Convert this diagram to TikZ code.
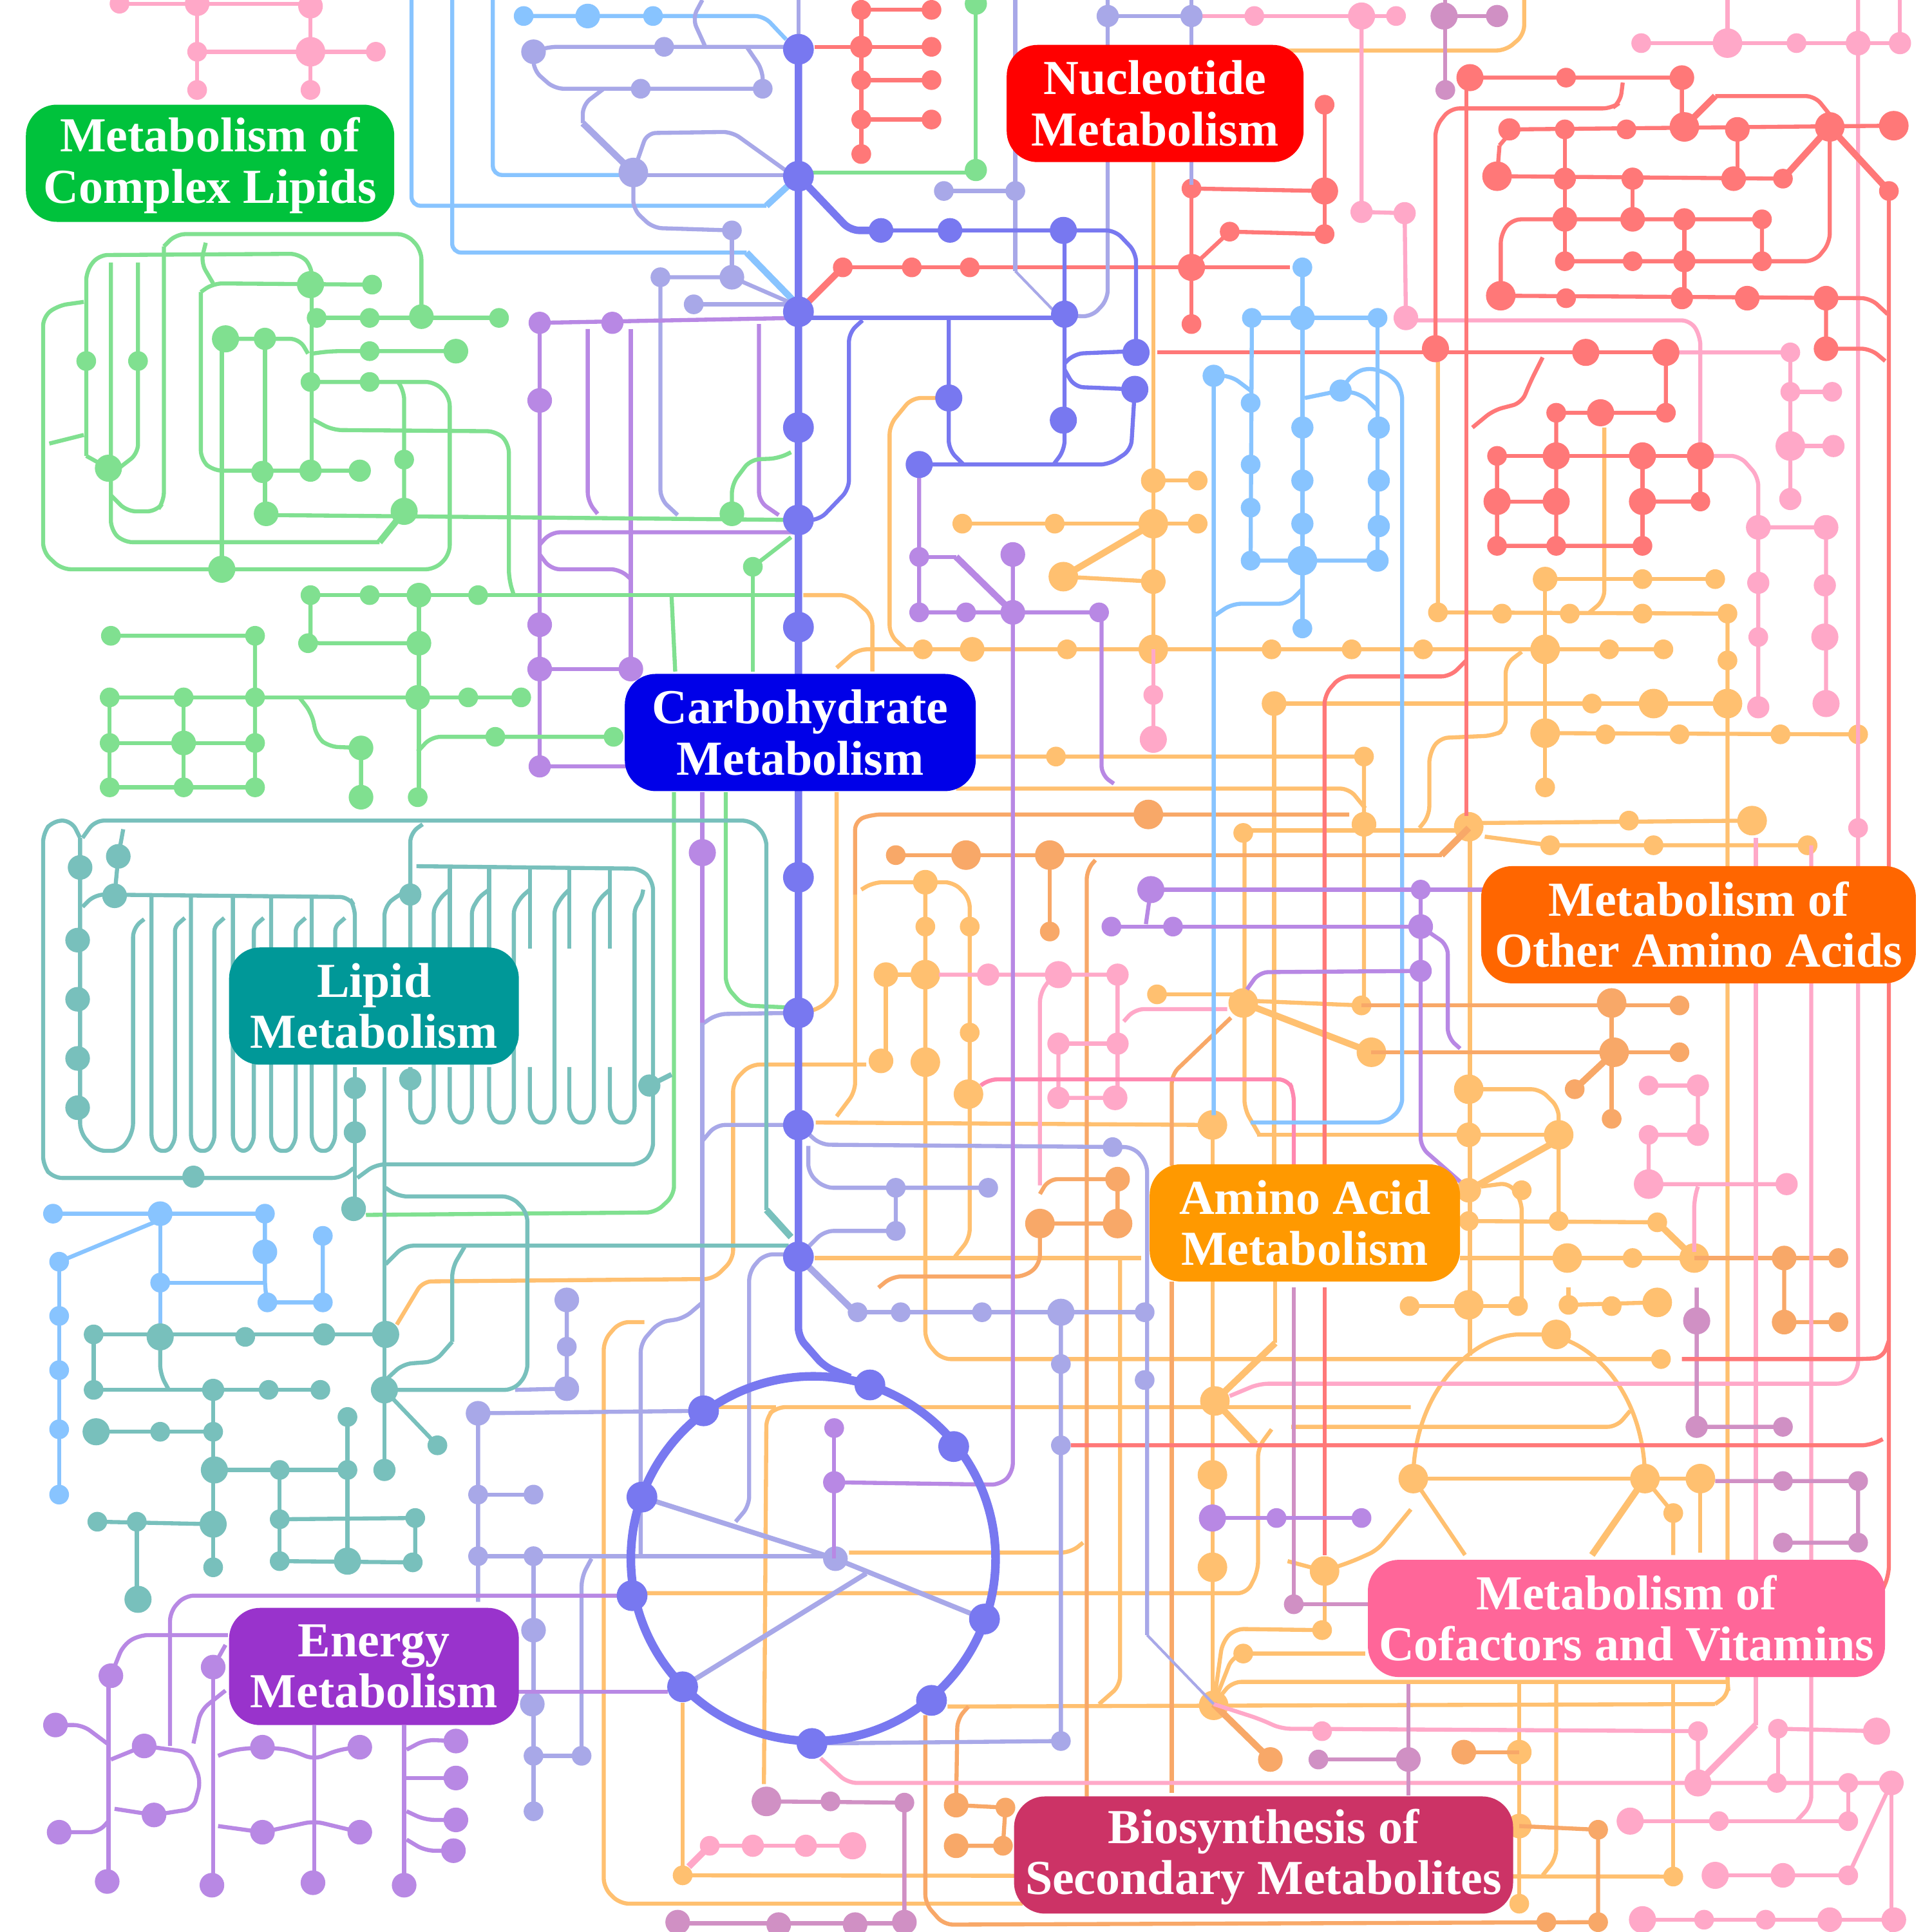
\documentclass[tikz,border=0pt]{standalone}
\usepackage{fontspec}
\setmainfont{Liberation Serif}
\definecolor{cP}{HTML}{FFA8C8}
\definecolor{cPd}{HTML}{FF88B0}
\definecolor{cO}{HTML}{FFC070}
\definecolor{cD}{HTML}{F8A868}
\definecolor{cR}{HTML}{FF7878}
\definecolor{cB}{HTML}{88C4FF}
\definecolor{cL}{HTML}{A8A8E8}
\definecolor{cV}{HTML}{B888E4}
\definecolor{cG}{HTML}{80E090}
\definecolor{cT}{HTML}{78C0BC}
\definecolor{cC}{HTML}{7878F0}
\definecolor{cM}{HTML}{D090C4}
\newcommand\Dt[2]{\foreach \xx/\yy in {#2}{\fill (\xx,\yy) circle[radius=#1];}}
\newcommand\Up{\rule{0pt}{17pt}}
\tikzset{
 lnk/.style={line width=1.8pt,rounded corners=4pt},
 tk/.style={line width=2.9pt},
 lab/.style={text=white,align=center,rounded corners=0.48cm,minimum height=1.82cm,inner sep=0pt,font=\bfseries\fontsize{21.6}{22.6}\selectfont}
}
\begin{document}
\begin{tikzpicture}[x=0.019133cm,y=-0.019133cm]
\useasboundingbox (0,0) rectangle (1568,1568);
\clip (0,0) rectangle (1568,1568);
\fill[white] (0,0) rectangle (1568,1568);
% ---------- orange
\begin{scope}[lnk,color=cO]
\draw (935,41)--(1222,41)--(1237,28)--(1237,0);
\draw (936,131)--(936,527);
\draw (936,390)--(972,390);
\draw (781,425)--(972,425);
\draw[tk] (936,425)--(863,468);
\draw (863,468)--(936,472);
\draw (679,542)--(696,527)--(1350,527);
\draw (1167,293)--(1167,497)--(1402,498);
\draw (1254,470)--(1392,470);
\draw (1254,470)--(1254,639);
\draw (1254,595)--(1508,596);
\draw (1302,347)--(1302,487)--(1290,497);
\draw (1034,571)--(1402,571);
\draw (1034,571)--(1034,945);
\draw (1402,498)--(1402,1365)--(1403,1375)--(1392,1383);
\draw (1235,529)--(1222,539)--(1222,592)--(1212,597)--(1168,599)--(1160,612)--(1160,662)--(1152,672);
\draw (1192,668)--(1422,666);
\draw (1205,679)--(1258,686)--(1467,686);
\draw (792,614)--(1107,614)--(1107,816);
\draw (776,640)--(1095,640)--(1108,656);
\draw (1010,674)--(1182,674);
\draw (1010,676)--(1010,900)--(1022,921);
\draw (1193,672)--(1193,1100);
\draw (699,722)--(709,716)--(774,716)--(787,729)--(787,1005)--(775,1020);
\draw (694,726)--(694,886)--(679,906);
\draw (751,716)--(751,1088)--(764,1103)--(1348,1103);
\draw (719,791)--(751,791);
\draw (719,791)--(719,860);
\draw (322,1075)--(343,1040)--(579,1038)--(595,1022)--(595,878)--(609,864)--(703,864);
\draw (662,911)--(984,913);
\draw (1020,921)--(1265,921);
\draw (648,822)--(665,819)--(679,805)--(679,643);
\draw (652,483)--(689,483)--(708,500)--(708,545);
\draw (770,323)--(740,323)--(722,345)--(722,515)--(735,527);
\draw (661,1021)--(926,1021);
\draw (939,807)--(1009,807);
\draw[tk] (1009,814)--(1113,854);
\draw (1009,812)--(1105,816);
\draw (1192,884)--(1250,884)--(1265,899)--(1265,989);
\draw[tk] (1192,966)--(1258,929);
\draw (1202,963)--(1225,960)--(1235,975)--(1235,1060);
\draw (1192,991)--(1345,992);
\draw[tk] (1345,992)--(1375,1021);
\draw (1185,1021)--(1375,1021);
\draw (1144,1060)--(1232,1060);
\draw (1273,1059)--(1345,1057);
\draw (1273,1045)--(1273,1059);
\draw (1147,1200) .. controls (1147,1130) and (1195,1083) .. (1241,1083) .. controls (1290,1083) and (1335,1130) .. (1335,1200);
\draw (1147,1200)--(1189,1262);
\draw[tk] (1335,1200)--(1292,1262);
\draw (1147,1200)--(1380,1200);
\draw (1335,1200)--(1358,1228)--(1358,1262);
\draw (1380,1200)--(1380,1260);
\draw (1358,1365)--(1358,1522);
\draw (1233,1365)--(1233,1545);
\draw (1263,1365)--(1263,1508)--(1252,1522);
\draw (552,1522)--(1358,1523);
\draw (985,1383)--(1000,1365)--(1403,1365);
\draw (769,1385)--(1392,1383);
\draw (985,1383)--(992,1333)--(1002,1322)--(1073,1323);
\draw (985,1383)--(1000,1345)--(1009,1342)--(1108,1342);
\draw (909,1021)--(909,1368)--(892,1383);
\draw (984,913)--(984,945);
\draw (984,1040)--(984,1383);
\draw[tk] (986,1137)--(1035,1090);
\draw (1035,1040)--(1035,1090);
\draw (620,1448)--(622,1150)--(630,1142)--(1145,1142);
\draw (582,1142)--(630,1142);
\draw (1048,1158)--(1312,1158)--(1323,1145);
\draw[tk] (986,1137)--(1019,1172);
\draw (1032,1160)--(1021,1175)--(1021,1275)--(1012,1293)--(522,1293);
\draw (689,1260)--(869,1260)--(879,1252);
\draw (554,1382)--(554,1522);
\draw (523,1073)--(503,1073)--(490,1088)--(490,1532)--(503,1545)--(830,1545);
\draw (1045,1267)--(1075,1275)--(1098,1267)--(1118,1258)--(1145,1225);
\draw (1075,1275)--(1075,1322);
\Dt{8}{781/425,856/425,972/425,972/390,1107/614,939/807,1105/816,1167/497,1219/498,1333/498,1402/498,1392/470,1333/470,1274/498,1402/536,749/527,866/527,1097/527,1155/527,1306/527,1350/527,1032/527,1292/571,1303/596,1363/596,1445/596,1508/596,1254/639,1322/666,1258/686,1342/686,1467/686,857/614,751/752,787/752,787/838,1009/676,1235/966,1265/991,1192/991,1345/992,1325/1021,1144/1060,1232/1060,1273/1059,1308/1060,1348/1103,1358/1228,1073/1323,1009/1342,554/1522,1233/1545,1358/1523}
\Dt{10}{936/390,936/472,719/791,715/861,751/716,1034/571,789/527,1107/669,1402/571,1192/921,1192/966,1254/470,1233/1482,1233/1422}
\Dt{12}{936/425,863/468,936/527,1254/527,1342/571,1402/571,1254/595,1192/671,1422/666,751/791,751/862,786/888,1009/814,1113/854,984/913,1192/884,1265/921,1272/1021,1375/1021,1192/1059,1345/1057,1263/1083,1147/1200,1335/1200,1380/1200,1075/1275,986/1137,984/1197,984/1272,985/1384}
\end{scope}
% ---------- dark orange
\begin{scope}[lnk,color=cD]
\draw (694,726)--(694,666)--(708,661)--(1095,661);
\draw (727,694)--(1170,694);
\draw[tk] (1170,694)--(1192,672);
\draw (852,694)--(852,756);
\draw (889,698)--(882,706)--(882,1458);
\draw (951,946)--(951,872)--(999,826);
\draw (951,1040)--(951,1455);
\draw (713,1045)--(724,1036)--(832,1036)--(844,1026)--(844,993)--(907,993)--(907,957)--(851,957)--(844,969);
\draw (1113,854)--(1363,854);
\draw (1105,816)--(1363,816);
\draw (1308,814)--(1308,908);
\draw[tk] (1310,854)--(1278,884);
\draw (1375,1021)--(1492,1021);
\draw (1448,1021)--(1448,1073)--(1492,1073);
\draw (751,1392)--(751,1545)--(766,1562)--(1297,1560);
\draw (786,1385)--(777,1395)--(776,1465)--(816,1467)--(814,1498)--(776,1498);
\draw (1233,1482)--(1297,1485)--(1297,1560);
\draw (1188,1422)--(1233,1422);
\draw[tk] (985,1383)--(1031,1428);
\Dt{8}{727/694,852/756,1363/816,1363/854,1492/1021,1492/1073,1278/884,1308/908,1297/1485,1255/1560,1297/1560,816/1467,814/1498}
\Dt{10}{776/1465,776/1498,1031/1428,1188/1422,1448/1073,907/957,1448/1021}
\Dt{12}{784/694,852/694,932/661,844/993,907/993,1308/814,1310/854}
\end{scope}
% ---------- pink
\begin{scope}[lnk,color=cP]
\draw (97,3)--(252,3);\draw (160,3)--(160,73);\draw (252,3)--(252,73);\draw (160,42)--(305,42);
\Dt{8}{97/3,160/42,160/73,252/73,305/42}\Dt{10}{160/3,252/5}\Dt{12}{252/42}
\draw (967,13)--(1133,13);
\draw (1105,13)--(1105,172)--(1140,173)--(1141,258);
\draw (1142,260)--(1372,260)--(1380,273)--(1380,370)--(1412,370)--(1427,387)--(1427,574);
\draw (1427,428)--(1482,428)--(1482,571);
\Dt{8}{1018/13,1133/13,1427/517}\Dt{9}{1105/172,1140/173,1427/473,1427/574,1481/475}\Dt{10}{1141/258,1427/428,1482/428}\Dt{11}{1105/13,1481/517,1482/571}
\draw (1352,286)--(1453,286)--(1453,405);\draw (1453,318)--(1487,318);\draw (1453,362)--(1488,362);
\Dt{8}{1453/286,1487/318,1453/318}\Dt{9}{1488/362,1453/405}\Dt{12}{1453/362}
\draw (1332,35)--(1542,35);\draw (1402,0)--(1402,35);\draw (1542,0)--(1542,35);
\draw (1508,0)--(1508,1112)--(1498,1123)--(1022,1123)--(998,1133);
\Dt{8}{1332/35,1458/35,1508/672}\Dt{9}{1542/35}\Dt{10}{1508/35}\Dt{12}{1402/35}
\draw (1470,686)--(1470,1465)--(1458,1478);
\draw (1425,680)--(1425,1400);
\draw[tk] (1425,1400)--(1378,1447);
\draw (985,1383)--(1022,1395)--(1040,1403)--(1378,1405)--(1378,1447);
\draw (666,1427)--(688,1447)--(1535,1447);
\draw (1443,1403)--(1443,1447);\draw (1443,1403)--(1523,1405);
\draw (1500,1447)--(1500,1478);\draw (1323,1478)--(1500,1478);
\draw (1392,1522)--(1500,1522);
\draw (1500,1522)--(1535,1447);\draw (1535,1447)--(1535,1568);
\draw (1333,1558)--(1537,1558);
\Dt{8}{1073/1405,1378/1405,1442/1447,1500/1447,1443/1403,1395/1478,1500/1478,1500/1522,1383/1558,1433/1558}
\Dt{10}{1535/1447,1447/1522,1485/1558,1537/1558}\Dt{11}{1378/1447,1523/1405,1323/1478,1392/1522,1333/1558}
\draw (1338,881)--(1378,881)--(1378,921)--(1338,921)--(1338,961)--(1450,961);
\draw (1378,963)--(1375,973)--(1375,1016);
\Dt{8}{1338/881,1338/921}\Dt{9}{1378/881,1378/921,1450/961}\Dt{12}{1338/961}
\draw (762,791)--(907,791)--(907,889);
\draw (859,847)--(907,847);\draw (859,847)--(859,891)--(905,891);
\draw (852,795)--(844,806)--(844,962);
\draw (912,829)--(921,819)--(996,819);
\Dt{9}{802/791,907/791,907/847,859/847,859/891}\Dt{10}{905/891}\Dt{11}{859/791}
\draw[cPd] (796,881)--(802,876)--(1045,876)--(1050,886)--(1050,949);
\draw (936,527)--(936,600);\Dt{8}{936/564}\Dt{11}{936/600}
\draw[tk] (559,1515)--(576,1498);
\draw (576,1498)--(692,1498);
\Dt{8}{576/1498}\Dt{9}{611/1498,654/1498}\Dt{11}{692/1498}
\end{scope}
% ---------- mauve
\begin{scope}[lnk,color=cM]
\draw (1172,13)--(1215,13);\draw (1173,0)--(1173,73);
\Dt{8}{1173/73}\Dt{9}{1215/13}\Dt{11}{1172/13}
\draw (1377,1045)--(1377,1158)--(1447,1158);
\Dt{8}{1447/1158}\Dt{9}{1377/1158}\Dt{11}{1377/1072}
\draw (1392,1202)--(1508,1202)--(1508,1252)--(1447,1252);
\Dt{8}{1447/1202,1508/1202,1447/1252,1508/1252}
\draw (1050,1302)--(1110,1302);\draw (1050,1045)--(1050,1302);\Dt{8}{1050/1302}
\draw (1070,1428)--(1143,1428);\draw (1143,1367)--(1143,1457);
\Dt{8}{1070/1428}\Dt{10}{1143/1428}
\draw (622,1462)--(734,1463)--(734,1552);
\Dt{8}{674/1462,734/1463}\Dt{12}{622/1462}
\draw (550,1561)--(734,1561);
\Dt{10}{550/1560,632/1562,694/1562,734/1560}
\end{scope}
% ---------- red
\begin{scope}[lnk,color=cR]
\draw (699,0)--(699,125);
\draw (661,38)--(757,38);\draw (699,8)--(756,8);\draw (699,65)--(756,65);\draw (699,97)--(756,97);
\Dt{8}{699/8,756/8,699/65,756/65,699/97,756/97,699/125,756/38}\Dt{9}{699/38}
\draw[tk] (648,253)--(684,217);
\draw (684,217)--(1047,217);
\draw (967,217)--(967,263);\draw (967,153)--(967,217);
\draw (967,153)--(1075,155);\draw (1075,85)--(1075,190);
\draw (998,188)--(1075,190);\draw (967,217)--(998,188);
\Dt{8}{684/217,740/217,787/217,1075/85,998/188,1075/190,967/263,967/153}\Dt{11}{1075/155,967/217}
\draw (1193,63)--(1365,63)--(1365,103);
\draw (1190,63)--(1190,662);
\draw (1317,67)--(1315,83)--(1308,88)--(1177,88)--(1165,103)--(1165,283);
\draw (939,286)--(1352,286);
\Dt{8}{1271/63}\Dt{10}{1365/63}\Dt{11}{1193/63,1165/283,1287/286,1352/286}
\draw (1252,290)--(1242,310)--(1235,327)--(1212,333)--(1195,347);
\draw (1352,286)--(1352,335)--(1263,335)--(1263,443);
\draw (1215,370)--(1380,370);\draw (1215,370)--(1215,443)--(1333,443);
\draw (1333,370)--(1333,443);\draw (1380,370)--(1380,407)--(1333,407);
\draw (1215,407)--(1263,407);
\Dt{8}{1352/335,1263/335,1215/370,1215/443,1263/443,1333/443,1380/407}\Dt{11}{1299/335,1263/370,1333/370,1380/370,1215/407,1263/407,1333/407}
\draw (1217,118)--(1228,105)--(1537,102);
\draw (1215,143)--(1217,118);
\draw (1213,143)--(1447,145);
\draw[tk] (1447,145)--(1485,103);
\draw (1270,105)--(1270,212);\draw (1410,105)--(1410,145);\draw (1325,145)--(1325,178);
\draw[tk] (1367,103)--(1392,78);
\draw (1392,78)--(1473,78)--(1485,93);
\draw (1485,103)--(1485,197)--(1473,212)--(1270,212);
\draw (1218,240)--(1218,190)--(1227,178)--(1430,178)--(1430,212);
\draw (1367,178)--(1367,240);
\draw (1218,240)--(1518,242)--(1532,255);
\draw (1482,242)--(1482,283)--(1518,283)--(1530,293);
\draw[tk] (1485,103)--(1533,155);
\draw (1533,157)--(1533,1278)--(1528,1290);
\Dt{8}{1270/105,1320/105,1447/145,1325/212,1430/178,1533/155,1270/212,1271/242,1430/212}\Dt{9}{1270/145,1325/145,1367/178,1367/212,1365/242,1225/105}\Dt{10}{1270/178,1325/178,1410/105,1407/145,1418/242,1482/242,1482/283}\Dt{12}{1215/143,1367/103,1485/103,1537/102,1218/240}
\draw (1075,949)--(1075,564)--(1088,549)--(1177,549)--(1190,536);
\draw (1075,1045)--(1075,1262);
\draw (1365,1103)--(1512,1103)--(1528,1102)--(1533,1088);
\draw (869,1173)--(1518,1173)--(1528,1168);
\end{scope}
% ---------- light blue
\begin{scope}[lnk,color=cB]
\draw (334,0)--(334,167)--(622,167);
\draw[tk] (622,167)--(648,143);
\draw (367,0)--(367,205)--(606,205);
\draw[tk] (606,205)--(645,245);
\draw (400,0)--(400,142)--(515,142);
\draw (425,13)--(620,13)--(638,32);
\Dt{8}{425/13,530/13}\Dt{10}{477/13}
\draw (1016,258)--(1118,258);
\draw (1057,217)--(1057,510);
\draw (1118,258)--(1118,455)--(1015,455)--(1016,258);
\Dt{8}{1057/217,1016/258,1118/258,1057/510,1015/327,1015/377,1015/412,1015/455}\Dt{9}{1057/347,1057/390,1057/425,1119/347,1119/390,1119/427,1118/455}\Dt{12}{1057/455}\Dt{10}{1057/258}
\draw (1015,317)--(999,305)--(985,305)--(985,905);
\draw (985,500)--(1000,490)--(1045,490)--(1057,478);
\draw (1059,323)--(1088,317)--(1105,320)--(1118,333);
\draw (1088,317)--(1098,303)--(1112,298)--(1130,305)--(1138,317)--(1138,899)--(1125,911)--(1015,911);
\Dt{9}{985/305,1088/317}
\draw (43,985)--(215,985)--(215,1045)--(217,1057)--(262,1057)--(262,1003);
\draw (130,985)--(130,1085);
\draw (130,1041)--(215,1041);
\draw (48,1024)--(130,990);
\draw (48,1024)--(48,1213);
\Dt{8}{43/985,215/985,262/1003,48/1024,48/1068,48/1112,48/1160,48/1213,130/1041,262/1057,217/1057}\Dt{10}{130/985,215/1016}
\end{scope}
% ---------- lilac
\begin{scope}[lnk,color=cL]
\draw (648,0)--(648,38);
\draw (433,42)--(445,38)--(648,38);
\draw (433,42)--(433,57)--(450,72)--(619,72)--(619,57)--(606,38);
\draw (490,72)--(473,85)--(473,100);
\draw[tk] (473,100)--(514,140);
\draw (514,140)--(514,170)--(530,185)--(594,187);
\draw (514,140)--(525,108)--(594,107)--(640,140);
\draw (515,142)--(648,142);
\draw (570,0)--(562,15)--(572,37);
\draw (594,187)--(594,225);
\draw (536,225)--(594,225)--(640,245);
\draw (536,225)--(536,405)--(550,418);
\draw (563,247)--(640,247);
\Dt{8}{539/38,619/72,520/72,594/187,536/225,563/247}\Dt{10}{433/42,594/225}\Dt{12}{514/140}
\draw (824,0)--(824,220);
\draw[line width=1.2pt] (824,220)--(856,253);
\draw (766,155)--(824,155);
\Dt{8}{766/155,824/155}
\draw (899,13)--(967,13);
\draw (899,0)--(899,243)--(886,257)--(864,256);
\draw (967,0)--(967,150);
\Dt{9}{899/13,967/13}
\draw (460,1055)--(460,1127)--(418,1128);
\Dt{8}{460/1093}\Dt{10}{460/1055,460/1127}
\draw (571,1145)--(388,1147)--(388,1300);
\draw (388,1213)--(433,1213);
\draw (678,1263)--(388,1263);
\draw (433,1263)--(433,1470);
\draw (472,1425)--(433,1425);
\draw (472,1425)--(472,1280)--(480,1265);
\Dt{8}{388/1213,433/1213,388/1263,433/1263,433/1425,472/1425,433/1470}\Dt{10}{388/1147,433/1323,432/1383}
\draw (570,830)--(570,1145);
\draw (570,831)--(582,823)--(648,822);
\draw (570,926)--(581,913)--(648,913);
\draw (640,1018)--(620,1018)--(608,1032)--(608,1222)--(597,1235);
\draw (520,1262)--(520,1090)--(535,1073)--(555,1070)--(569,1058);
\draw (648,913)--(666,929)--(920,931)--(931,944)--(931,1327);
\draw[line width=1.2pt] (931,1327)--(985,1383);
\Dt{8}{903/931}
\draw (656,930)--(656,952)--(669,964)--(802,964);
\draw (727,964)--(727,999)--(669,999)--(656,1012);
\Dt{8}{727/964,802/964,727/999}
\draw[tk] (648,1020)--(695,1066);
\draw (696,1065)--(929,1065);
\draw (861,1065)--(861,1413)--(659,1415);
\Dt{8}{696/1065,731/1065,797/1065,929/1065,929/1120,861/1107,861/1173,861/1413}\Dt{11}{861/1065}
\draw[line width=2.2pt] (521,1215)--(678,1265)--(799,1314);
\draw[line width=2.2pt] (554,1369)--(703,1277);
\Dt{10}{678/1265}
\end{scope}
% ---------- violet
\begin{scope}[lnk,color=cV]
\draw (438,262)--(648,258);
\draw (438,262)--(438,622)--(510,622);
\draw (477,267)--(477,407)--(485,417);
\draw (512,267)--(512,545);
\draw (616,263)--(616,407)--(632,418);
\draw (438,442)--(447,432)--(648,432);
\draw (438,450)--(447,462)--(503,462)--(512,470);
\draw (438,543)--(512,543);
\Dt{9}{438/262,497/262,438/622}\Dt{10}{438/325,438/507,438/543,512/543}
\draw (570,643)--(570,830);\Dt{11}{570/692}
\draw (746,377)--(746,497)--(892,497);
\draw (746,452)--(776,452);
\draw[tk] (776,452)--(822,497);
\draw (822,450)--(822,1195)--(812,1205)--(677,1203);
\draw (677,1159)--(677,1265);
\draw (894,497)--(894,629)--(904,636);
\Dt{8}{746/452,746/497,784/497,892/497,677/1159}\Dt{9}{677/1203}\Dt{10}{822/450,822/497}
\draw (934,722)--(1205,722);
\draw (934,722)--(930,750);
\draw (902,752)--(1153,752);
\draw (1153,752)--(1175,767)--(1175,842)--(1185,851);
\draw (1153,722)--(1153,931)--(1185,959);
\draw (1012,803)--(1022,789)--(1153,788);
\Dt{8}{902/752,952/752,1153/722}\Dt{9}{1153/788}\Dt{10}{1153/752}\Dt{11}{934/722}
\draw (984,1232)--(1105,1232);\Dt{8}{1036/1232,1105/1232}\Dt{11}{984/1232}
\draw (138,1417)--(138,1308)--(150,1295)--(513,1295);
\draw (90,1360)--(100,1335)--(113,1327)--(185,1327);
\draw (173,1353)--(183,1335);
\draw (173,1353)--(173,1530);
\draw (88,1360)--(88,1527);
\draw (45,1400)--(67,1400)--(87,1415);
\draw (48,1487)--(80,1487)--(88,1478);
\draw (90,1428)--(117,1417)--(153,1422)--(163,1445)--(157,1468)--(125,1473)--(93,1468);
\draw (157,1415)--(163,1388)--(183,1372);
\draw (255,1400)--(255,1528);
\draw (177,1425)--(190,1420)--(213,1418)--(235,1420)--(255,1428)--(275,1420)--(292,1418);
\draw (177,1482)--(213,1487)--(255,1478)--(292,1487);
\draw (328,1400)--(328,1530);
\draw (330,1420)--(345,1412)--(370,1413);
\draw (330,1443)--(370,1443);
\draw (330,1470)--(345,1477)--(370,1477);
\draw (330,1493)--(345,1502)--(368,1502);
\draw (420,1373)--(542,1373);
\Dt{10}{368/1502,370/1413,370/1443,370/1477,90/1360,173/1353,45/1400,117/1417,125/1473,48/1487,87/1527,172/1530,254/1528,328/1530,213/1418,292/1418,213/1487,292/1487}
\end{scope}
% ---------- green
\begin{scope}[lnk,color=cG]
\draw (133,200)--(143,190)--(330,190)--(342,203)--(342,257);
\draw (257,258)--(405,258);
\draw (70,370)--(70,220)--(80,207)--(243,206)--(253,216)--(253,382);
\draw (70,370)--(88,380);
\draw (90,213)--(90,430)--(100,440)--(308,440);
\draw[tk] (308,440)--(328,415);
\draw (112,213)--(112,368)--(90,385);
\draw (133,200)--(133,407)--(127,415)--(103,415)--(90,402);
\draw (328,415)--(328,317)--(323,310);
\draw (252,310)--(353,310)--(365,322)--(365,450)--(353,462)--(50,462)--(35,448)--(35,257)--(47,248)--(68,245);
\draw (40,360)--(68,353);
\draw (180,277)--(180,462);
\draw (183,275)--(243,275)--(250,287);
\draw (215,275)--(215,417);
\draw (163,237)--(163,373)--(173,382)--(292,382);
\draw (163,237)--(173,230)--(302,231);
\draw (167,197)--(163,213)--(173,230);
\draw (216,418)--(648,422);
\draw (253,340)--(270,349)--(403,350)--(413,360)--(413,470)--(417,483);
\draw (253,287)--(268,285)--(370,285);
\Dt{8}{405/258,252/310,300/310,257/258,300/258,300/285,328/373,70/293,112/293,302/231}\Dt{9}{215/275,292/382,213/383,252/382}\Dt{10}{342/257,370/285,216/417}\Dt{11}{183/275,252/231,88/380,328/415,180/462}
\draw (594,418)--(594,393)--(609,373)--(632,372)--(642,367);\Dt{10}{594/417}
\draw (611,460)--(642,436);\draw (611,460)--(611,545);\Dt{8}{611/460}
\draw (252,483)--(648,483);
\draw (252,483)--(252,522)--(340,522);
\draw (340,483)--(340,647);
\Dt{8}{252/483,300/483,388/483,250/522}\Dt{10}{340/483,340/522}
\draw (90,516)--(207,516)--(207,639);
\draw (89,566)--(423,566);\draw (89,603)--(207,603);\draw (89,639)--(207,639);
\draw (89,566)--(89,639);\draw (149,566)--(149,639);
\Dt{8}{90/516,207/516,89/566,149/566,207/566,380/566,423/566,89/603,207/603,89/639,149/639,207/639}\Dt{10}{339/566,149/603}
\draw (243,566)--(253,579)--(257,598)--(267,606)--(293,607)--(293,647);
\Dt{10}{293/607,293/647}
\draw (339,610)--(350,598)--(497,598);
\Dt{8}{339/647,402/598,498/598}
\draw (545,483)--(548,545);\draw (547,643)--(547,970)--(532,984)--(297,986);
\draw (589,643)--(589,800)--(603,816)--(648,818);
\draw (792,3)--(792,138);\draw (648,140)--(792,140);\Dt{9}{792/3,792/138}
\end{scope}
% ---------- teal
\begin{scope}[lnk,color=cT]
\draw (65,680)--(58,666)--(43,666)--(35,676)--(35,946)--(43,956)--(277,956)--(287,948);
\draw (65,680)--(65,919)--(78,934)--(98,934)--(108,919)--(108,753)--(117,746);
\draw (67,680)--(77,666)--(610,666)--(622,679)--(622,982);
\draw[tk] (622,982)--(642,1004);
\draw (67,736)--(77,726)--(283,728)--(288,736)--(288,770);
\draw (100,673)--(96,695)--(93,727);
\foreach \aa/\bb in {123/142,155/174,189/206,220/240,253/272}{
 \draw[rounded corners=2pt] (\aa,727)--(\aa,925)--(\aa+5,934)--(\bb-5,934)--(\bb,925)--(\bb,752)--(\bb+8,745);
}
\Dt{10}{65/704,63/763,63/811,63/859,63/899,96/695,93/727}
\draw (333,770)--(333,676)--(343,669);
\draw (338,703)--(520,705)--(530,715)--(530,935)--(520,945)--(305,945)--(290,956);
\foreach \aa/\bb/\cc in {333/352/365,365/383/397,397/417/430,430/450/462,462/482/495,495/515/522}{
 \draw[rounded corners=2pt] (\aa,866)--(\aa,902)--(\aa+5,911)--(\bb-5,911)--(\bb,902)--(\bb,738)--(\bb+6,728)--(\cc,722);
 \draw (\aa,705)--(\aa,770);
}
\draw (312,770)--(312,736)--(322,727)--(333,722);
\draw (312,866)--(312,1193);
\Dt{9}{333/726,288/883,288/919,333/876,157/955,527/881}\Dt{10}{287/981}
\draw (288,866)--(288,981);
\draw[line width=2.2pt] (527,881)--(545,872);
\draw (313,964)--(323,971)--(415,971)--(428,984)--(428,1115)--(417,1128)--(312,1128);
\draw (313,1026)--(328,1011)--(640,1011);
\draw (367,1089)--(367,1029)--(377,1012);
\draw (367,1089)--(353,1105)--(327,1107)--(313,1120);
\draw (76,1083)--(313,1083);\draw (76,1128)--(260,1128);\draw (76,1083)--(76,1128);
\draw (130,1085)--(130,1115)--(137,1128);
\draw (78,1162)--(173,1162);\draw (173,1128)--(173,1272);
\draw (174,1193)--(282,1193);\draw (282,1150)--(282,1268);\draw (227,1193)--(227,1267);
\draw (227,1233)--(337,1232)--(337,1268);\draw (227,1267)--(335,1268);
\draw (79,1235)--(173,1237);\draw (111,1235)--(111,1298);
\draw (312,1128)--(355,1173);
\Dt{8}{76/1083,76/1128,218/1128,260/1128,199/1085,130/1162,173/1162,282/1150,282/1193,227/1193,227/1233,79/1235,111/1235,173/1272,355/1173,337/1232,335/1268,227/1267}
\Dt{9}{173/1128,263/1083,312/1193}\Dt{11}{130/1085,313/1083,312/1128,78/1162,174/1193,173/1237,282/1267,112/1298}
\end{scope}
% ---------- blue core
\begin{scope}[lnk,color=cC]
\draw[line width=3.3pt] (648,30)--(648,1085)--(669,1109)--(690,1118);
\draw[line width=3.8pt] (660,1265) circle[radius=148];
\draw[line width=3.3pt] (648,143)--(690,187)--(715,187);
\draw (690,187)--(905,187)--(922,205)--(922,286);
\draw (864,187)--(864,365)--(855,377);
\draw (864,295)--(872,287)--(921,285);
\draw (864,300)--(872,314)--(921,316)--(918,365)--(900,377)--(745,377);
\draw (648,258)--(864,258);
\draw (770,258)--(770,365)--(782,377);
\draw (700,260)--(689,270)--(689,397)--(665,422)--(648,422);
\Dt{10}{715/187,771/187}\Dt{11}{863/187,864/255,922/286,921/316,770/323,863/341,746/377}
\Dt{12.5}{648/40,648/143,648/253,648/347,648/422,648/509,648/712,648/822,648/913,648/1020,706/1124,571/1145,774/1174,521/1215,513/1295,799/1314,554/1369,756/1380,659/1415}
\end{scope}
% ---------- labels
\node (lcl) [lab,fill={rgb,255:red,0;green,194;blue,60},minimum width=5.72cm] at (170.5,132.5) {\Up Metabolism of\\Complex Lipids};
\node (lnu) [lab,fill=red,minimum width=4.61cm] at (937.5,84) {Nucleotide\\Metabolism};
\node (lca) [lab,fill={rgb,255:red,0;green,0;blue,232},minimum width=5.45cm] at (649.5,594.5) {Carbohydrate\\Metabolism};
\node (lli) [lab,fill={rgb,255:red,0;green,152;blue,152},minimum width=4.50cm] at (303.5,816.5) {Lipid\\Metabolism};
\node (loa) [lab,fill={rgb,255:red,255;green,102;blue,0},minimum width=6.75cm] at (1378.5,750.5) {Metabolism of\\Other Amino Acids};
\node (lam) [lab,fill={rgb,255:red,255;green,153;blue,0},minimum width=4.82cm] at (1059,992.5) {Amino Acid\\Metabolism};
\node (lco) [lab,fill={rgb,255:red,255;green,102;blue,153},minimum width=8.03cm] at (1320,1313.5) {Metabolism of\\Cofactors and Vitamins};
\node (len) [lab,fill={rgb,255:red,153;green,51;blue,204},minimum width=4.50cm] at (303.5,1352.5) {Energy\\Metabolism};
\node (lbi) [lab,fill={rgb,255:red,204;green,51;blue,102},minimum width=7.75cm] at (1025.5,1505.5) {\Up Biosynthesis of\\Secondary Metabolites};
\end{tikzpicture}
\end{document}
